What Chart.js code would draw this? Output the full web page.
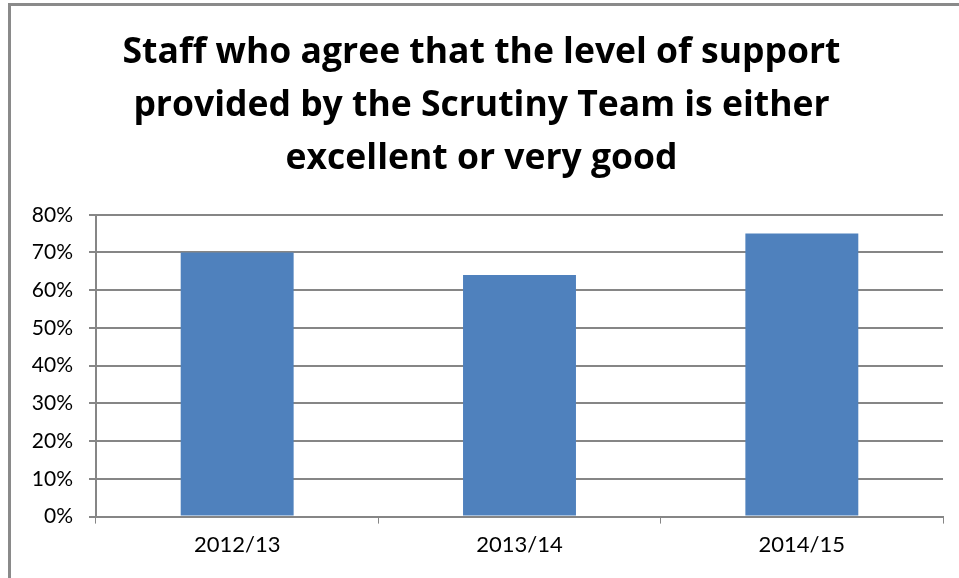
<!DOCTYPE html>
<html>
<head>
<meta charset="utf-8">
<script src="https://cdn.jsdelivr.net/npm/chart.js@4"></script>
<style>
  body { margin: 0; background: #fff; }
  #wrap { position: relative; width: 959px; height: 578px; }
  #frame { position: absolute; left: 8px; top: 3px; width: 960px; height: 580px;
           border-left: 3px solid #8a8a8a; border-top: 3px solid #8a8a8a; }
  canvas { position: absolute; left: 0; top: 0; }
</style>
</head>
<body>
<div id="wrap">
  <div id="frame"></div>
  <canvas id="chart" width="959" height="578"></canvas>
</div>
<script>
// Dados do gráfico
const years = ["2012/13", "2013/14", "2014/15"];
const agreeValues = [70, 64, 75];
const titleLines = [
  "Staff who agree that the level of support",
  "provided by the Scrutiny Team is either",
  "excellent or very good"
];

const gridColor = "#868686";

new Chart(document.getElementById("chart"), {
  type: "bar",
  data: {
    labels: years,
    datasets: [{
      data: agreeValues,
      backgroundColor: "#4F81BD",
      barPercentage: 0.4,
      categoryPercentage: 1
    }]
  },
  options: {
    responsive: false,
    animation: false,
    layout: { padding: { left: 20, right: 16, top: 0, bottom: 12 } },
    plugins: {
      legend: { display: false },
      tooltip: { enabled: false },
      title: {
        display: true,
        text: titleLines,
        color: "#000",
        font: { family: "Open Sans", size: 35.5, weight: "bold", lineHeight: 1.5 },
        padding: { top: 26, bottom: 29 }
      }
    },
    scales: {
      x: {
        grid: { drawOnChartArea: false, drawTicks: true, tickLength: 7, color: gridColor },
        border: { color: gridColor, width: 2 },
        ticks: { color: "#000", font: { family: "Lato", size: 22 }, padding: 8 }
      },
      y: {
        min: 0,
        max: 80,
        ticks: {
          stepSize: 10,
          color: "#000",
          font: { family: "Lato", size: 21 },
          padding: 16,
          callback: v => v + "%"
        },
        grid: { color: gridColor, lineWidth: 2, tickLength: 7 },
        border: { color: gridColor, width: 2 },
        afterFit: axis => { axis.width = 76; }
      }
    }
  }
});
</script>
</body>
</html>
